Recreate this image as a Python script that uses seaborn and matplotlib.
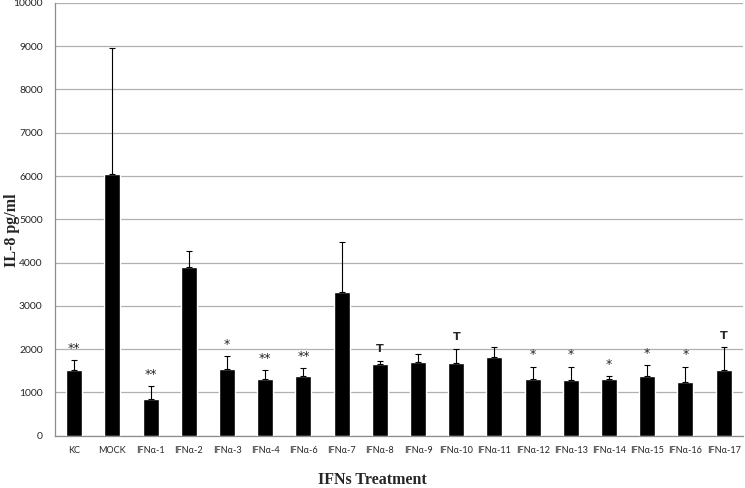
import numpy as np
import pandas as pd
import matplotlib
matplotlib.use('Agg')
import matplotlib.pyplot as plt
import seaborn as sns
from matplotlib.ticker import FixedLocator

#------------------------------------------------------------------------------
treatments = ['KC', 'MOCK', 'IFNα-1', 'IFNα-2', 'IFNα-3', 'IFNα-4', 'IFNα-6',
              'IFNα-7', 'IFNα-8', 'IFNα-9', 'IFNα-10', 'IFNα-11', 'IFNα-12',
              'IFNα-13', 'IFNα-14', 'IFNα-15', 'IFNα-16', 'IFNα-17']
il8_mean = [1510, 6040, 860, 3900, 1550, 1310, 1370, 3330, 1660, 1715, 1680,
            1810, 1310, 1280, 1320, 1385, 1250, 1515]
il8_sd = [240, 2910, 280, 370, 290, 210, 200, 1150, 70, 165, 330,
          230, 290, 320, 50, 255, 350, 525]
signif = ['**', '', '**', '', '*', '**', '**', '', 'T', '', 'T',
          '', '*', '*', '*', '*', '*', 'T']
#------------------------------------------------------------------------------
df = pd.DataFrame({'treatment': treatments, 'il8': il8_mean})

sns.set_style('white')
fig, ax = plt.subplots(figsize=(7.45, 4.88), dpi=100)
fig.subplots_adjust(left=0.074, right=0.997, top=0.994, bottom=0.107)

sns.barplot(data=df, x='treatment', y='il8', color='black', width=0.42,
            saturation=1, ax=ax, zorder=3)
xs = np.arange(len(treatments))
ax.errorbar(xs, il8_mean, yerr=[np.zeros(len(il8_sd)), il8_sd], fmt='none',
            ecolor='black', elinewidth=0.8, capsize=2.5, capthick=0.8, zorder=4)

for x, m, s, lab in zip(xs, il8_mean, il8_sd, signif):
    if lab == '':
        continue
    if lab == 'T':
        ax.text(x, m + s + 150, lab, ha='center', va='bottom', fontsize=8,
                fontweight='bold', family='DejaVu Sans')
    else:
        ax.text(x, m + s + 120, lab, ha='center', va='bottom', fontsize=9,
                family='DejaVu Sans')

ax.set_ylim(0, 10000)
ax.set_xlim(-0.5, len(treatments) - 0.5)
ax.set_yticks(range(0, 10001, 1000))
ax.yaxis.grid(True, color='#b0b0b0', linewidth=0.9)
ax.set_axisbelow(True)

for side in ['top', 'right']:
    ax.spines[side].set_visible(False)
for side in ['left', 'bottom']:
    ax.spines[side].set_color('#8c8c8c')
    ax.spines[side].set_linewidth(0.9)

ax.xaxis.set_minor_locator(FixedLocator(np.arange(-0.5, len(treatments), 1)))
ax.tick_params(axis='x', which='major', length=0, pad=7)
ax.tick_params(axis='x', which='minor', length=4, color='#8c8c8c', direction='out')
ax.tick_params(axis='y', length=4, color='#8c8c8c', direction='out', pad=5)
for lab in ax.get_xticklabels():
    lab.set_fontsize(6.6)
    lab.set_family('Lato')
for lab in ax.get_yticklabels():
    lab.set_fontsize(7.5)
    lab.set_family('Lato')

ax.set_xlabel('')
ax.set_ylabel('')
fig.text(0.5, 1 - 480 / 488, 'IFNs Treatment', family='Liberation Serif',
         fontweight='bold', fontsize=11.5, ha='center', va='center')
fig.text(12 / 745, 1 - 230 / 488, 'IL-8 pg/ml', family='Liberation Serif',
         fontweight='bold', fontsize=11.5, ha='center', va='center',
         rotation=90)

fig.savefig('out.png', dpi=100)
